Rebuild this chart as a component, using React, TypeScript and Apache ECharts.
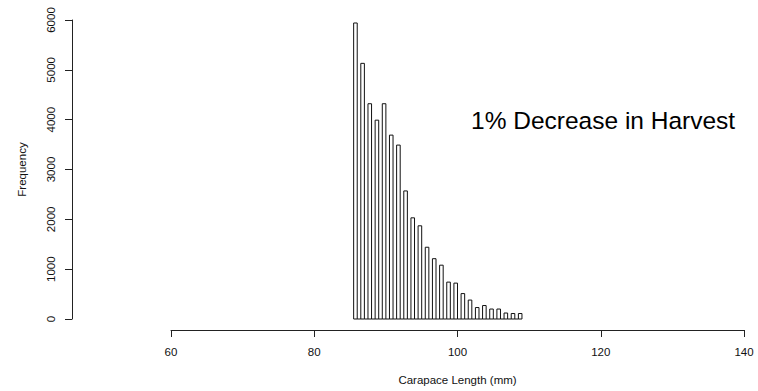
import React, { useEffect, useRef } from "react";
import * as echarts from "echarts";

// Carapace length classes (mm) and their frequencies
const lengths = [
  86, 87, 88, 89, 90, 91, 92, 93, 94, 95, 96, 97,
  98, 99, 100, 101, 102, 103, 104, 105, 106, 107, 108, 109,
];
const counts = [
  5940, 5130, 4320, 3990, 4320, 3690, 3490, 2570, 2030, 1870, 1440, 1210,
  1080, 740, 720, 510, 380, 230, 270, 200, 200, 120, 110, 110,
];
const xTicks = [60, 80, 100, 120, 140];
const yTicks = [0, 1000, 2000, 3000, 4000, 5000, 6000];
const annotation = "1% Decrease in Harvest";

const FONT = "'Liberation Sans', Arial, sans-serif";

export default function App() {
  const ref = useRef<HTMLDivElement>(null);

  useEffect(() => {
    if (!ref.current) return;
    document.body.style.margin = "0";
    const chart = echarts.init(ref.current, null, { renderer: "svg" });
    const binWidth = 0.5;

    chart.setOption({
      animation: false,
      backgroundColor: "#ffffff",
      textStyle: { fontFamily: FONT },
      grid: { left: 171, right: 14, top: 20, bottom: 71, containLabel: false },
      xAxis: {
        type: "value",
        min: xTicks[0],
        max: xTicks[xTicks.length - 1],
        interval: 20,
        offset: 11,
        splitLine: { show: false },
        axisLine: { show: true, onZero: false, lineStyle: { color: "#222", width: 1 } },
        axisTick: { show: true, length: 7, inside: false, lineStyle: { color: "#222" } },
        axisLabel: {
          color: "#111",
          fontSize: 11.5,
          fontFamily: FONT,
          margin: 16,
          formatter: (v: number) => String(v),
        },
        name: "Carapace Length (mm)",
        nameLocation: "middle",
        nameGap: 44,
        nameTextStyle: { color: "#111", fontSize: 11.5, fontFamily: FONT },
      },
      yAxis: {
        type: "value",
        min: yTicks[0],
        max: yTicks[yTicks.length - 1],
        interval: 1000,
        offset: 99,
        splitLine: { show: false },
        axisLine: { show: true, onZero: false, lineStyle: { color: "#222", width: 1 } },
        axisTick: { show: true, length: 7, lineStyle: { color: "#222" } },
        axisLabel: {
          color: "#111",
          fontSize: 11.5,
          fontFamily: FONT,
          rotate: 90,
          margin: 15,
          align: "center",
          verticalAlign: "bottom",
          formatter: (v: number) => String(v),
        },
        name: "Frequency",
        nameLocation: "middle",
        nameGap: 44,
        nameRotate: 90,
        nameTextStyle: { color: "#111", fontSize: 11.5, fontFamily: FONT },
      },
      series: [
        {
          type: "custom",
          clip: false,
          data: lengths.map((l, i) => [l, counts[i]]),
          renderItem: (params: any, api: any) => {
            const n = api.value(0);
            const c = api.value(1);
            const base = api.coord([n - binWidth, 0]);
            const top = api.coord([n, c]);
            const children: any[] = [
              {
                type: "rect",
                shape: {
                  x: base[0],
                  y: top[1],
                  width: top[0] - base[0],
                  height: base[1] - top[1],
                },
                style: { fill: "#ffffff", stroke: "#111", lineWidth: 1 },
              },
            ];
            // empty half-unit bin to the left of every class but the first
            if (params.dataIndex > 0) {
              const a = api.coord([n - 2 * binWidth, 0]);
              children.push({
                type: "line",
                shape: { x1: a[0], y1: a[1], x2: base[0], y2: base[1] },
                style: { stroke: "#111", lineWidth: 1 },
              });
            }
            return { type: "group", children };
          },
        },
      ],
      graphic: [
        {
          type: "text",
          left: 471,
          top: 108,
          style: {
            text: annotation,
            fontSize: 24.5,
            fontFamily: FONT,
            fill: "#000",
          },
        },
      ],
    });

    return () => chart.dispose();
  }, []);

  return <div ref={ref} style={{ width: 758, height: 391 }} />;
}
